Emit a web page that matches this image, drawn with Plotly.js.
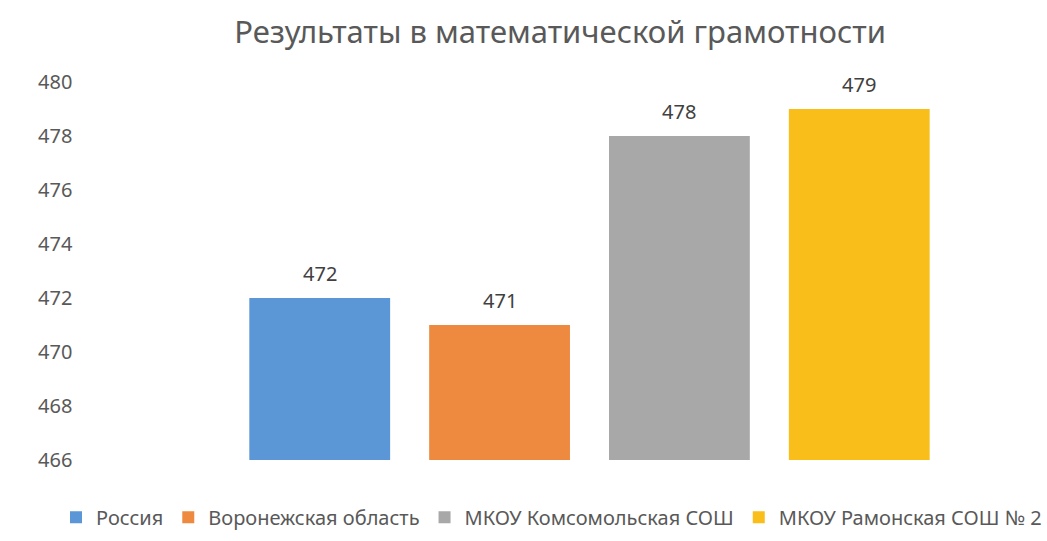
<!DOCTYPE html>
<html><head><meta charset="utf-8">
<script src="https://cdn.plot.ly/plotly-3.0.1.min.js"></script>
<style>body{margin:0;background:#fff}#c{width:1047px;height:541px}</style>
</head><body><div id="c"></div>
<script>
const seriesNames = ["Россия", "Воронежская область", "МКОУ Комсомольская СОШ", "МКОУ Рамонская СОШ № 2"];
const seriesValues = [472, 471, 478, 479];
const seriesColors = ["#5B96D6", "#EE8A3F", "#A8A8A8", "#F9BE1A"];
const yTicks = [466, 468, 470, 472, 474, 476, 478, 480];
const axisMin = 466;
const fontFam = "'Noto Sans', sans-serif";

const traces = seriesNames.map((n, i) => ({
  type: 'bar', name: n, x: [i], y: [seriesValues[i] - axisMin], base: axisMin,
  marker: {color: seriesColors[i]},
  width: 0.783,
  hoverinfo: 'skip'
}));

const annotations = seriesNames.map((n, i) => ({
  x: i, y: seriesValues[i], xref: 'x', yref: 'y',
  text: String(seriesValues[i]), showarrow: false,
  yanchor: 'bottom', yshift: 9,
  font: {size: 20, color: '#404040', family: fontFam}
}));

Plotly.newPlot('c', traces, {
  width: 1047, height: 541,
  paper_bgcolor: '#fff', plot_bgcolor: '#fff',
  margin: {l: 30, r: 0, t: 67, b: 66},
  title: {text: 'Результаты в математической грамотности', x: 0.535, xref: 'container', xanchor: 'center', y: 0.94, yref: 'container', yanchor: 'middle',
          font: {size: 31, color: '#595959', family: fontFam}},
  barmode: 'overlay',
  annotations: annotations,
  xaxis: {range: [-1.611, 4.044], showticklabels: false, showgrid: false, zeroline: false, showline: false, fixedrange: true},
  yaxis: {range: [465.44, 480.56], tickvals: yTicks, ticktext: yTicks.map(String), showgrid: false, zeroline: false, showline: false,
          ticklabelposition: 'inside', ticklabelstandoff: 5,
          tickfont: {size: 20, color: '#595959', family: fontFam}},
  showlegend: true,
  legend: {orientation: 'h', x: 0.032, xanchor: 'left', y: -0.056, yanchor: 'top',
           font: {size: 20, color: '#595959', family: fontFam}, itemwidth: 30, tracegroupgap: 0},
  font: {family: fontFam}
}, {staticPlot: true});
</script></body></html>
